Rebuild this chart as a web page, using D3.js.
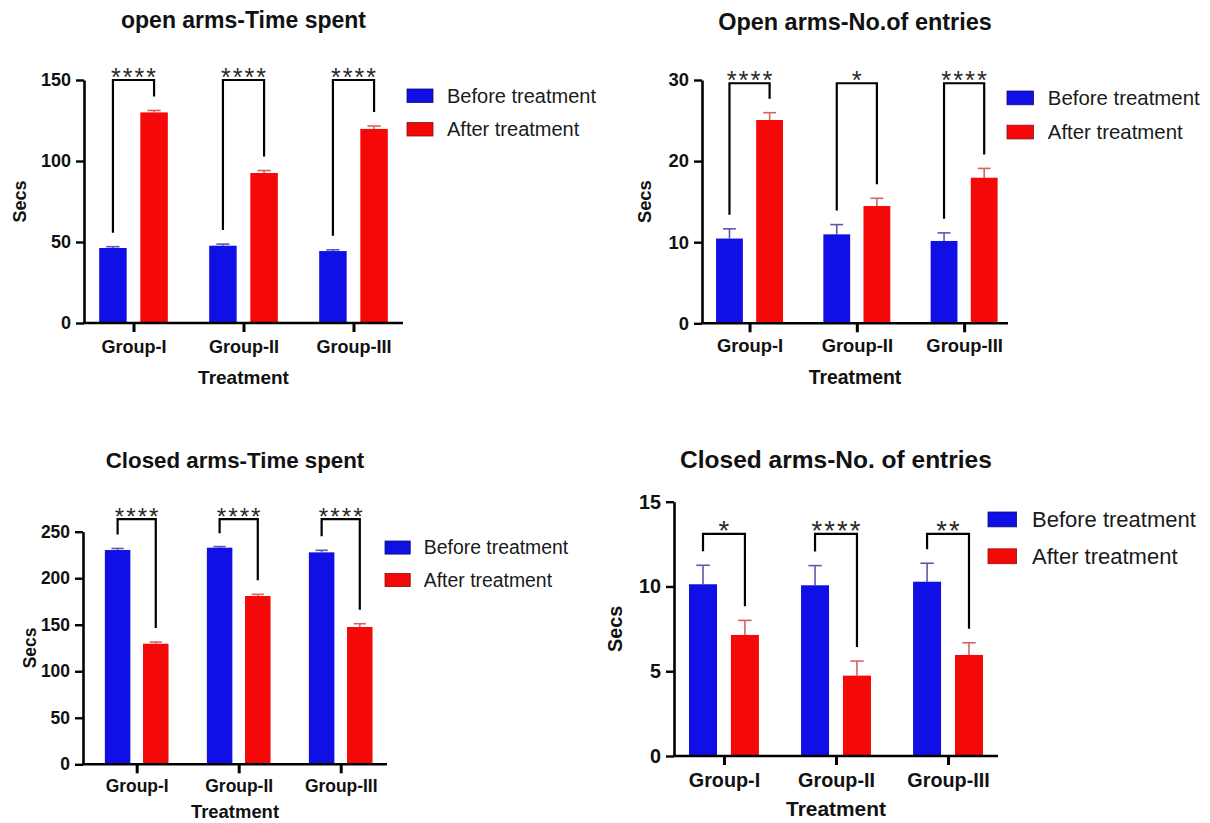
<!DOCTYPE html>
<html>
<head>
<meta charset="utf-8">
<script src="https://cdn.jsdelivr.net/npm/d3@7"></script>
<style>
  body { margin: 0; background: #fff; }
  svg { font-family: "Liberation Sans", Arial, sans-serif; }
</style>
</head>
<body>
<svg id="chart" width="1210" height="823"></svg>
<script>
// categories / series
const groups = ["Group-I", "Group-II", "Group-III"];
const series = ["Before treatment", "After treatment"];
const chartTitles = ["open arms-Time spent", "Open arms-No.of entries", "Closed arms-Time spent", "Closed arms-No. of entries"];
const yTicks = [[0, 50, 100, 150], [0, 10, 20, 30], [0, 50, 100, 150, 200, 250], [0, 5, 10, 15]];
const yMax = [150, 30, 250, 15];

// means and upper error (SEM) per chart
const openTimeBefore = [46.3, 47.7, 44.4];
const openTimeBeforeErr = [0.8, 1.0, 0.8];
const openTimeAfter = [130.0, 92.6, 119.8];
const openTimeAfterErr = [1.2, 1.5, 1.8];

const openEntriesBefore = [10.45, 10.97, 10.15];
const openEntriesBeforeErr = [1.2, 1.2, 1.0];
const openEntriesAfter = [25.07, 14.46, 17.95];
const openEntriesAfterErr = [0.9, 0.95, 1.15];

const closedTimeBefore = [230.3, 232.8, 227.8];
const closedTimeBeforeErr = [1.7, 1.2, 2.2];
const closedTimeAfter = [129.6, 180.9, 147.6];
const closedTimeAfterErr = [1.8, 1.8, 3.5];

const closedEntriesBefore = [10.13, 10.07, 10.28];
const closedEntriesBeforeErr = [1.12, 1.16, 1.09];
const closedEntriesAfter = [7.14, 4.74, 5.96];
const closedEntriesAfterErr = [0.86, 0.86, 0.72];

// significance stars and the level of the comparison brackets
const openTimeStars = ["****", "****", "****"];
const openEntriesStars = ["****", "*", "****"];
const closedTimeStars = ["****", "****", "****"];
const closedEntriesStars = ["*", "****", "**"];
const bracketLevel = [150, 29.6, 263.5, 13.1];

const chartValues = [
    [openTimeBefore, openTimeAfter],
    [openEntriesBefore, openEntriesAfter],
    [closedTimeBefore, closedTimeAfter],
    [closedEntriesBefore, closedEntriesAfter]
];
const chartErrors = [
    [openTimeBeforeErr, openTimeAfterErr],
    [openEntriesBeforeErr, openEntriesAfterErr],
    [closedTimeBeforeErr, closedTimeAfterErr],
    [closedEntriesBeforeErr, closedEntriesAfterErr]
];
const chartStars = [openTimeStars, openEntriesStars, closedTimeStars, closedEntriesStars];

// layout of the four panels
const panels = [
    {x: [84, 403], y: [323, 80], pad: 0.45, align: 0.5, titleY: 28, secsX: 20, legX: 407, legY: 89, fs: 1.0, lblOff: 30, treatOff: 61},
    {x: [702, 1008], y: [323.3, 80], pad: 0.426, align: 0.52, titleY: 30, secsX: 645, legX: 1007, legY: 91, fs: 1.02, lblOff: 29, treatOff: 61},
    {x: [83, 387], y: [764.3, 531.7], pad: 0.49, align: 0.537, titleY: 468, secsX: 30, legX: 385, legY: 541, fs: 0.97, lblOff: 28, treatOff: 54},
    {x: [674, 998], y: [756, 501.7], pad: 0.446, align: 0.5, titleY: 468, secsX: 615, legX: 988, legY: 512, fs: 1.1, lblOff: 31, treatOff: 60}
];

const barColors = ["#1010e6", "#f40808"];
const errColors = ["#5a5aa8", "#d46464"];

const svg = d3.select("#chart");

panels.forEach(function(p, k){
    let g = svg.append("g").attr("class", "panel" + k);

    let x = d3.scalePoint().domain(groups).range(p.x).padding(p.pad).align(p.align);
    let y = d3.scaleLinear().domain([0, yMax[k]]).range(p.y);
    let step = x.step();
    let x1 = d3.scaleBand().domain(series)
        .range([-0.312 * step, 0.312 * step])
        .paddingInner(0.332);
    let bw = x1.bandwidth();

    // flatten data
    let rows = [];
    groups.forEach((grp, i) => {
        series.forEach((s, j) => {
            rows.push({group: grp, series: s, si: j, value: chartValues[k][j][i], err: chartErrors[k][j][i]});
        });
    });

    // error bars (behind bars)
    let eb = g.append("g").selectAll("g").data(rows).join("g");
    eb.append("line")
        .attr("x1", d => x(d.group) + x1(d.series) + bw / 2)
        .attr("x2", d => x(d.group) + x1(d.series) + bw / 2)
        .attr("y1", d => y(d.value))
        .attr("y2", d => y(d.value + d.err))
        .attr("stroke", d => errColors[d.si])
        .attr("stroke-width", 1.6);
    eb.append("line")
        .attr("x1", d => x(d.group) + x1(d.series) + bw / 2 - bw * 0.24)
        .attr("x2", d => x(d.group) + x1(d.series) + bw / 2 + bw * 0.24)
        .attr("y1", d => y(d.value + d.err))
        .attr("y2", d => y(d.value + d.err))
        .attr("stroke", d => errColors[d.si])
        .attr("stroke-width", 1.6);

    // bars
    g.append("g").selectAll("rect").data(rows).join("rect")
        .attr("x", d => x(d.group) + x1(d.series))
        .attr("y", d => y(d.value))
        .attr("width", bw)
        .attr("height", d => y(0) - y(d.value))
        .attr("fill", d => barColors[d.si]);

    // y axis
    let yAxis = g.append("g")
        .attr("transform", "translate(" + p.x[0] + ",0)")
        .call(d3.axisLeft(y).tickValues(yTicks[k]).tickSize(8).tickSizeOuter(0).tickPadding(5));
    yAxis.select(".domain").attr("stroke", "#000").attr("stroke-width", 2.6);
    yAxis.selectAll(".tick line").attr("stroke", "#000").attr("stroke-width", 2.4);
    yAxis.selectAll("text")
        .attr("fill", "#111")
        .attr("font-size", 18 * p.fs)
        .attr("font-weight", "bold");

    // x axis
    let xAxis = g.append("g")
        .attr("transform", "translate(0," + y(0) + ")")
        .call(d3.axisBottom(x).tickSize(9).tickSizeOuter(0));
    xAxis.select(".domain").attr("stroke", "#000").attr("stroke-width", 2.6)
        .attr("d", "M" + (p.x[0] - 1) + ",0H" + p.x[1]);
    xAxis.selectAll(".tick line").attr("stroke", "#000").attr("stroke-width", 3);
    xAxis.selectAll("text")
        .attr("y", p.lblOff)
        .attr("dy", 0)
        .attr("fill", "#111")
        .attr("font-size", 18 * p.fs)
        .attr("font-weight", "bold");

    // axis titles
    g.append("text")
        .attr("x", (p.x[0] + p.x[1]) / 2)
        .attr("y", y(0) + p.treatOff)
        .attr("text-anchor", "middle")
        .attr("font-size", 19 * p.fs)
        .attr("font-weight", "bold")
        .attr("fill", "#111")
        .text("Treatment");
    g.append("text")
        .attr("transform", "translate(" + p.secsX + "," + (p.y[0] + p.y[1]) / 2 + ") rotate(-90)")
        .attr("dy", "0.35em")
        .attr("text-anchor", "middle")
        .attr("font-size", 18 * p.fs)
        .attr("font-weight", "bold")
        .attr("fill", "#111")
        .text("Secs");

    // chart title
    g.append("text")
        .attr("x", (p.x[0] + p.x[1]) / 2)
        .attr("y", p.titleY)
        .attr("text-anchor", "middle")
        .attr("font-size", k == 3 ? 24.5 : 23 * p.fs)
        .attr("font-weight", "bold")
        .attr("fill", "#111")
        .text(chartTitles[k]);

    // significance brackets
    let top = y(bracketLevel[k]);
    let GAP = 14;
    groups.forEach((grp, i) => {
        let xl = x(grp) + x1(series[0]) + bw / 2;
        let xr = x(grp) + x1(series[1]) + bw / 2;
        let yl = y(chartValues[k][0][i] + chartErrors[k][0][i]) - GAP;
        let yr = y(chartValues[k][1][i] + chartErrors[k][1][i]) - GAP;
        g.append("path")
            .attr("d", "M" + xl + "," + Math.max(yl, top + 14) + "V" + top + "H" + xr + "V" + Math.max(yr, top + 14))
            .attr("fill", "none")
            .attr("stroke", "#000")
            .attr("stroke-width", 2.2);
        g.append("text")
            .attr("x", (xl + xr) / 2 + 1)
            .attr("y", top + 6)
            .attr("text-anchor", "middle")
            .attr("font-size", 25 * p.fs)
            .attr("letter-spacing", 2)
            .attr("fill", "#2a2a2a")
            .text(chartStars[k][i]);
    });

    // legend
    let leg = g.append("g").attr("transform", "translate(" + p.legX + "," + p.legY + ")");
    series.forEach((s, j) => {
        let rowY = j * 33.5 * p.fs;
        leg.append("rect")
            .attr("x", 0).attr("y", rowY)
            .attr("width", 26 * p.fs).attr("height", 13.5 * p.fs)
            .attr("fill", barColors[j])
            .attr("stroke", j == 0 ? "#101070" : "#901010")
            .attr("stroke-width", 0.8);
        leg.append("text")
            .attr("x", 40 * p.fs)
            .attr("y", rowY + 6.75 * p.fs)
            .attr("dy", "0.35em")
            .attr("font-size", 20 * p.fs)
            .attr("fill", "#1a1a1a")
            .text(s);
    });
});
</script>
</body>
</html>
